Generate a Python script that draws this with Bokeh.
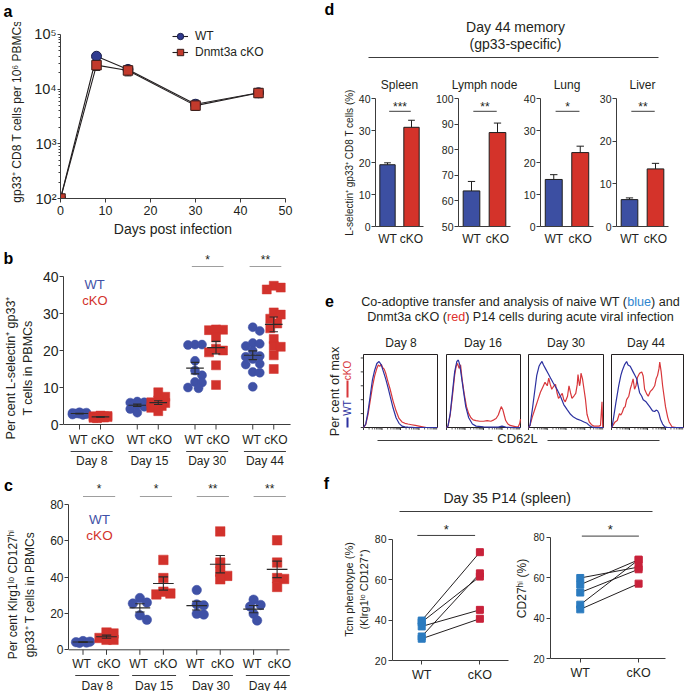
import math
from bokeh.plotting import figure
from bokeh.layouts import row, column
from bokeh.models import (Range1d, FixedTicker, CustomJSTickFormatter, Whisker, TeeHead,
                          Legend, LegendItem, ColumnDataSource)
from bokeh.core.properties import value
from bokeh.embed import file_html
from bokeh.resources import INLINE

# ---------------- data ----------------
a_days = [0, 8, 15, 30, 44]
a_wt = [100, 40000, 23000, 5300, 8600]
a_wt_err = [0, 2500, 3500, 1000, 1400]
a_ko = [100, 27500, 22000, 5000, 8500]
a_ko_err = [0, 5500, 4500, 900, 1500]
a_xticks = [0, 10, 20, 30, 40, 50]
a_yticks = [1e2, 1e3, 1e4, 1e5]

b_days = ["Day 8", "Day 15", "Day 30", "Day 44"]
b_wt = [[3.3, 3.1, 3.0, 2.9, 2.8, 2.7, 3.2, 2.6, 3.0],
        [6.2, 6.0, 5.9, 5.6, 5.5, 5.3, 4.8, 4.2, 3.2],
        [21.6, 21.6, 21.5, 17.2, 14.6, 13.3, 11.5, 11.3, 10.0, 9.8],
        [26.3, 25.3, 22.0, 21.8, 21.2, 19.9, 18.5, 18.3, 17.7, 16.4, 16.2, 14.2, 14.0, 10.2]]
b_ko = [[2.3, 2.2, 2.1, 2.0, 1.9, 1.8, 2.4, 1.7, 2.0, 2.2],
        [8.7, 7.5, 6.5, 6.0, 5.8, 5.0, 4.5, 3.6, 5.5],
        [25.7, 25.6, 25.5, 23.5, 20.5, 20.0, 19.5, 16.0, 10.7],
        [37.5, 37.0, 36.5, 30.3, 29.7, 28.6, 27.3, 26.0, 23.1, 21.2, 21.0, 18.7, 15.0]]
b_sig = ["", "", "*", "**"]
b_yticks = [0, 10, 20, 30, 40]

c_days = ["Day 8", "Day 15", "Day 30", "Day 44"]
c_wt = [[4.8, 4.2, 3.8, 4.0, 4.5],
        [28.5, 26.0, 25.5, 19.0, 16.5],
        [32.9, 25.0, 24.5, 19.8, 19.4],
        [27.6, 24.7, 23.8, 19.8, 16.1]]
c_ko = [[9.5, 9.0, 6.5, 5.5, 5.5],
        [49.5, 39.5, 32.0, 31.0, 30.5],
        [65.2, 48.0, 43.0, 40.7, 38.8],
        [60.3, 48.0, 39.5, 39.0, 34.6]]
c_sig = ["*", "*", "**", "**"]
c_yticks = [0, 20, 40, 60, 80]

groups = ["WT", "cKO"]
d_tissues = ["Spleen", "Lymph node", "Lung", "Liver"]
d_wt = [19.3, 63.9, 14.7, 6.3]
d_wt_err = [0.6, 3.7, 1.5, 0.4]
d_ko = [31.0, 86.7, 23.1, 13.5]
d_ko_err = [2.2, 3.7, 2.0, 1.3]
d_sig = ["***", "**", "*", "**"]
d_ylo = [0, 50, 0, 0]
d_yhi = [40, 100, 40, 30]

e_days = ["Day 8", "Day 16", "Day 30", "Day 44"]
e_wt_x = [[0, 3, 6, 9, 12, 15, 18, 21, 24, 27, 30, 33, 36, 40, 44, 48, 52, 56, 60, 70, 100],
          [0, 2, 5, 8, 11, 14, 16, 18, 20, 23, 26, 30, 35, 40, 50, 60, 70, 75, 80, 90, 100],
          [0, 2, 5, 8, 11, 14, 16, 18, 20, 23, 26, 29, 33, 38, 43, 47, 52, 56, 60, 65, 70, 74, 78, 81, 84, 88, 100],
          [0, 1, 3, 6, 10, 13, 15, 18, 21, 23, 26, 30, 33, 35, 37, 39, 42, 44, 48, 53, 57, 60, 62, 64, 66, 68, 71, 74, 78, 100]]
e_wt_y = [[0, 5, 22, 45, 68, 82, 92, 95, 90, 80, 70, 58, 45, 28, 14, 6, 2, 1, 0.5, 0, 0],
          [0, 2, 20, 50, 80, 95, 97, 90, 75, 52, 30, 14, 5, 2, 1, 0.5, 0.5, 2, 0.5, 0, 0],
          [0, 3, 25, 50, 75, 88, 92, 95, 90, 84, 78, 72, 64, 55, 44, 33, 25, 19, 15, 12, 10, 8, 6, 3, 1, 0, 0],
          [0, 2, 15, 35, 60, 75, 82, 90, 95, 90, 88, 80, 74, 70, 60, 50, 45, 40, 37, 30, 24, 23, 25, 24, 20, 12, 5, 1, 0, 0]]
e_ko_x = [[0, 3, 6, 9, 12, 15, 18, 20, 22, 24, 26, 28, 30, 33, 36, 40, 44, 48, 52, 56, 60, 65, 70, 75, 80, 85, 100],
          [0, 2, 5, 8, 11, 13, 15, 17, 19, 21, 24, 27, 30, 33, 36, 40, 45, 50, 55, 60, 64, 67, 70, 72, 74, 76, 78, 80, 83, 86, 90, 94, 97, 99, 100],
          [0, 2, 5, 9, 12, 16, 19, 22, 25, 27, 29, 31, 34, 36, 38, 40, 43, 45, 47, 49, 52, 54, 56, 58, 61, 63, 65, 66, 68, 69, 70, 72, 74, 76, 78, 81, 84, 87, 90, 94, 96, 98, 99],
          [0, 2, 5, 8, 11, 13, 15, 17, 19, 21, 24, 26, 28, 30, 32, 34, 36, 39, 42, 44, 46, 49, 51, 54, 57, 60, 62, 64, 66, 67, 69, 71, 73, 75, 78, 80, 84, 90, 100]]
e_ko_y = [[0, 4, 18, 38, 58, 74, 85, 90, 88, 91, 86, 84, 78, 66, 55, 38, 24, 13, 8, 6, 5, 4, 3, 2, 1, 0, 0],
          [0, 2, 18, 45, 75, 88, 92, 85, 90, 70, 48, 30, 20, 14, 11, 10, 9, 9, 10, 9, 11, 13, 18, 24, 30, 26, 18, 10, 5, 3, 2, 1, 1, 6, 12],
          [0, 3, 15, 28, 38, 51, 58, 65, 60, 71, 62, 55, 60, 62, 50, 42, 46, 49, 40, 37, 45, 60, 50, 42, 46, 49, 62, 76, 60, 65, 78, 70, 55, 40, 19, 8, 4, 2, 2, 2, 3, 37, 0],
          [0, 3, 8, 10, 20, 18, 22, 28, 30, 40, 45, 55, 62, 70, 55, 60, 72, 78, 80, 74, 55, 48, 45, 52, 55, 60, 70, 75, 85, 94, 80, 60, 45, 30, 15, 8, 1, 0, 0]]
e_xticks = [0, 25, 50, 75]
e_yticks = [0, 20, 40, 60, 80, 100]

f_tcm_wt = [39.8, 39.0, 36.9, 31.9, 30.8]
f_tcm_ko = [73.7, 61.6, 45.1, 63.2, 40.7]
f_cd27_wt = [59.8, 56.5, 52.6, 46.6, 44.3]
f_cd27_ko = [65.2, 68.8, 64.1, 68.8, 57.0]
f_yticks = [20, 40, 60, 80]

# ---------------- style ----------------
FONT = "Liberation Sans"
INK = "#231f20"
AX = "#3c3c3c"
BLUE = "#3f51a6"
RED = "#d2322c"
NAVY = "#2f3a8f"
BRICK = "#c23a2c"
BAR_BLUE = "#3c4fa2"
BAR_RED = "#d4332a"
H_BLUE = "#2c31a0"
H_RED = "#d8373b"
F_BLUE = "#2b7bbf"
F_RED = "#c8213a"

ARIAL = {' ': 278, '(': 333, ')': 333, '-': 333, 'A': 667, 'B': 667, 'C': 722, 'D': 722, 'K': 667, 'L': 556,
         'M': 833, 'O': 778, 'P': 667, 'T': 611, 'W': 944, 'a': 556, 'b': 556, 'c': 500, 'd': 556, 'e': 556,
         'f': 278, 'g': 556, 'h': 556, 'i': 222, 'l': 222, 'm': 833, 'n': 556, 'o': 556, 'p': 556, 'r': 333,
         's': 500, 't': 278, 'u': 556, 'v': 500, 'w': 722, 'x': 500, 'y': 500}


def tw(s, size):
    return sum(ARIAL.get(ch, 556) for ch in s) / 1000.0 * size


def base(p):
    p.grid.visible = False
    p.outline_line_color = None
    p.background_fill_color = "white"
    p.border_fill_color = "white"
    return p


def mkfig(w, h, xr, yr, ml, mr, mt, mb, **kw):
    p = figure(width=w, height=h, x_range=xr, y_range=yr, output_backend="svg",
               toolbar_location=None, min_border_left=ml, min_border_right=mr,
               min_border_top=mt, min_border_bottom=mb, frame_align=False, **kw)
    return base(p)


def deco(w, h, xr=None, yr=None, **kw):
    p = figure(width=w, height=h, x_range=xr if xr is not None else Range1d(0, w),
               y_range=yr if yr is not None else Range1d(h, 0), output_backend="svg",
               toolbar_location=None, x_axis_location=None, y_axis_location=None, min_border=0,
               frame_align=False, **kw)
    return base(p)


def xr_px(origin, unit, left, right):
    return Range1d((left - origin) / unit, (right - origin) / unit)


def style_axis(ax, fs, tick_out=4, standoff=2):
    ax.axis_line_color = AX
    ax.major_tick_line_color = AX
    ax.minor_tick_line_color = AX
    ax.major_tick_in = 0
    ax.major_tick_out = tick_out
    ax.minor_tick_in = 0
    ax.minor_tick_out = 0
    ax.major_label_text_font = FONT
    ax.major_label_text_font_size = fs
    ax.major_label_text_color = INK
    ax.major_label_standoff = standoff
    ax.axis_label_text_font = FONT
    ax.axis_label_text_font_style = "normal"
    ax.axis_label_text_color = INK


def txt(p, xs, ys, texts, size, color=INK, align="center", baseline="middle", angle=0.0, style="normal"):
    p.text(x=xs, y=ys, text=texts, text_font=value(FONT), text_font_size=value(size),
           text_color=color, text_align=align, text_baseline=baseline, angle=angle,
           text_font_style=style)


def letter(p, ch, x, y):
    txt(p, [x], [y], [ch], "16px", color="black", style="bold")


def swarm(vals, xs, ys, d=7.0, step=3.5, kmax=2):
    order = sorted(range(len(vals)), key=lambda i: -vals[i])
    cands = [0.0]
    for k in range(1, kmax + 1):
        cands += [k * step, -k * step]
    placed = []
    res = [0.0] * len(vals)
    for i in order:
        vy = vals[i] * ys
        best, bestd = 0.0, -1.0
        for c in cands:
            md = min((math.hypot(c - px, vy - py) for px, py in placed), default=1e9)
            if md >= d:
                best = c
                break
            if md > bestd:
                best, bestd = c, md
        placed.append((best, vy))
        res[i] = best / xs
    return res


def mean_sem(v):
    n = len(v)
    m = sum(v) / n
    sd = math.sqrt(sum((x - m) ** 2 for x in v) / (n - 1))
    return m, sd / math.sqrt(n)


# ================= LEFT COLUMN =================
# ---- panel a ----
a_head = deco(340, 22)
letter(a_head, "a", 7.5, 11)
letter(a_head, "d", 329, 9)

A_DEC = 54.67  # px per decade
pa = mkfig(340, 223, Range1d(0, 50), Range1d(100, 10 ** (5 + 10 / A_DEC)), 60, 55, 2, 47,
           y_axis_type="log", title=None)
xa = pa.xaxis[0]
style_axis(xa, "12.5px", tick_out=4, standoff=3)
xa.ticker = FixedTicker(ticks=a_xticks)
xa.axis_label = "Days post infection"
xa.axis_label_text_font_size = "14px"
xa.axis_label_standoff = 3
ya = pa.yaxis[0]
style_axis(ya, "14.5px", tick_out=3, standoff=1)
ya.bounds = (1e2, 1e5)
minors = [m * 10 ** k for k in (2, 3, 4) for m in range(2, 10)]
ya.ticker = FixedTicker(ticks=a_yticks, minor_ticks=minors)
ya.minor_tick_out = 2
ya.formatter = CustomJSTickFormatter(code="""
const e = Math.round(Math.log10(tick));
const s = {2: "\u00b2", 3: "\u00b3", 4: "\u2074", 5: "\u2075", 6: "\u2076"};
return "10" + s[e];
""")
ya.axis_label = "gp33\u207a CD8 T cells per 10\u2076 PBMCs"
ya.axis_label_text_font_size = "12px"
ya.axis_label_standoff = 7

src_wt = ColumnDataSource(dict(x=a_days, y=a_wt, lo=[m - e for m, e in zip(a_wt, a_wt_err)],
                               hi=[m + e for m, e in zip(a_wt, a_wt_err)]))
src_ko = ColumnDataSource(dict(x=a_days, y=a_ko, lo=[m - e for m, e in zip(a_ko, a_ko_err)],
                               hi=[m + e for m, e in zip(a_ko, a_ko_err)]))
la = pa.line("x", "y", source=src_wt, line_color=INK, line_width=1.1)
lk = pa.line("x", "y", source=src_ko, line_color=INK, line_width=1.1)
for s in (src_wt, src_ko):
    pa.add_layout(Whisker(source=s, base="x", lower="lo", upper="hi", line_color=INK, line_width=1,
                          upper_head=TeeHead(size=7, line_color=INK, line_width=1),
                          lower_head=TeeHead(size=7, line_color=INK, line_width=1), level="underlay"))
sa = pa.scatter("x", "y", source=src_wt, marker="circle", size=10, fill_color=NAVY, line_color="#1c1f4a")
sk = pa.scatter("x", "y", source=src_ko, marker="square", size=9.5, fill_color=BRICK, line_color="#3a1c18")
leg = Legend(items=[LegendItem(label="WT", renderers=[la, sa]),
                    LegendItem(label="Dnmt3a cKO", renderers=[lk, sk])],
             location=(112, 138), border_line_color=None, background_fill_alpha=0, padding=0, margin=0,
             spacing=0, glyph_width=16, glyph_height=16, label_height=16, label_standoff=7,
             label_text_font=FONT, label_text_font_size="12px", label_text_color=INK)
pa.add_layout(leg)


# ---- dot panels b, c ----
def dot_panel(p, head, days, wt, ko, sig, pos_wt, pos_ko, cfg):
    xs, ys = cfg["xs"], cfg["ys"]
    xr = p.x_range
    p.segment(x0=[xr.start], y0=[0], x1=[pos_ko[-1] + cfg["axis_ext"]], y1=[0], line_color=AX, line_width=1)
    allpos = [v for pair in zip(pos_wt, pos_ko) for v in pair]
    tl = cfg["tick_px"] / ys
    p.segment(x0=allpos, y0=[0] * len(allpos), x1=allpos, y1=[-tl] * len(allpos), line_color=AX, line_width=1)
    lab_y = -cfg["lab_px"] / ys
    ul_y = -cfg["ul_px"] / ys
    day_y = -cfg["day_px"] / ys
    txt(p, [x - 0.06 for x in pos_wt], [lab_y] * len(pos_wt), [groups[0]] * len(pos_wt), cfg["fs"])
    txt(p, [x + 0.1 for x in pos_ko], [lab_y] * len(pos_ko), [groups[1]] * len(pos_ko), cfg["fs"])
    p.segment(x0=[x - cfg["ul_l"] for x in pos_wt], y0=[ul_y] * len(pos_wt),
              x1=[x + cfg["ul_r"] for x in pos_ko], y1=[ul_y] * len(pos_ko), line_color=AX, line_width=1)
    txt(p, [(a - cfg["ul_l"] + b + cfg["ul_r"]) / 2 for a, b in zip(pos_wt, pos_ko)], [day_y] * len(days),
        days, cfg["fs"])
    for g in range(len(days)):
        for vals, pos, col, mk in ((wt[g], pos_wt[g], BLUE, "circle"), (ko[g], pos_ko[g], RED, "square")):
            offs = swarm(vals, xs, ys)
            p.scatter([pos + o for o in offs], vals, marker=mk, size=cfg["msize"], fill_color=col,
                      line_color=col, line_width=0.5)
            m, se = mean_sem(vals)
            hw = cfg["mean_hw"]
            cw = cfg["cap_hw"]
            p.segment(x0=[pos - hw, pos, pos - cw, pos - cw], y0=[m, m - se, m - se, m + se],
                      x1=[pos + hw, pos, pos + cw, pos + cw], y1=[m, m + se, m - se, m + se],
                      line_color="#2a2a2a", line_width=1.1)
    for g, s in enumerate(sig):
        if not s:
            continue
        x0 = pos_wt[g] - cfg["sig_l"]
        x1 = pos_ko[g] + cfg["sig_r"]
        head.segment(x0=[x0], y0=[cfg["sig_y"]], x1=[x1], y1=[cfg["sig_y"]], line_color=AX, line_width=1)
        txt(head, [(x0 + x1) / 2], [cfg["star_y"]], [s], "12px")


# panel b : data 0 at px x=79, 21 px per unit; y: 0 at page 424, 3.7 px per unit
B_X0, B_U, B_Y0, B_YU = 79.0, 21.0, 424.0, 3.7
B_TOP = 267  # page y where the plot below the header starts
B_GAP = 2.75
bpos_wt = [g * B_GAP for g in range(len(b_days))]
bpos_ko = [x + 1 for x in bpos_wt]
b_head = deco(340, B_TOP - 245, xr=xr_px(B_X0, B_U, 0, 340), yr=Range1d(B_TOP - 245, 0))
letter(b_head, "b", (8 - B_X0) / B_U, 12.5)
pb = mkfig(340, 468 - B_TOP, xr_px(B_X0, B_U, 63, 340),
           Range1d((B_Y0 - 468) / B_YU, (B_Y0 - B_TOP) / B_YU), 63, 0, 0, 0,
           x_axis_location=None, title=None)
yb = pb.yaxis[0]
style_axis(yb, "14px", tick_out=4, standoff=1)
yb.bounds = (0, 40)
yb.ticker = FixedTicker(ticks=b_yticks)
yb.axis_label = "Per cent L-selectin\u207a gp33\u207a\nT cells in PBMCs"
yb.axis_label_text_font_size = "12.5px"
yb.axis_label_standoff = 5
dot_panel(pb, b_head, b_days, b_wt, b_ko, b_sig, bpos_wt, bpos_ko,
          dict(xs=B_U, ys=B_YU, axis_ext=0.8, tick_px=5, lab_px=15, ul_px=27, day_px=36, fs="12px",
               ul_l=0.42, ul_r=0.58, msize=9, mean_hw=0.42, cap_hw=0.2,
               sig_y=21.5, star_y=14.5, sig_l=0.15, sig_r=0.36))
txt(pb, [(94 - B_X0) / B_U], [(B_Y0 - 284) / B_YU], ["WT"], "13px", color=BLUE)
txt(pb, [(94.5 - B_X0) / B_U], [(B_Y0 - 300) / B_YU], ["cKO"], "13px", color=RED)
# panel e side texts that sit in this region of the page
letter(pb, "e", (329 - B_X0) / B_U, (B_Y0 - 300) / B_YU)
txt(pb, [(333.5 - B_X0) / B_U], [(B_Y0 - 391) / B_YU], ["Per cent of max"], "12.8px", angle=math.pi / 2)

# panel c : data 0 at px x=82.5, 23.5 px per unit; y: 0 at page 649.3
C_X0, C_U, C_Y0 = 82.5, 23.5, 649.3
C_TOP = 497
C_YU = (C_Y0 - 504) / 80.0
C_GAP = 2.42
cpos_wt = [g * C_GAP for g in range(len(c_days))]
cpos_ko = [x + 1 for x in cpos_wt]
c_head = deco(340, C_TOP - 468, xr=xr_px(C_X0, C_U, 0, 340), yr=Range1d(C_TOP - 468, 0))
letter(c_head, "c", (8 - C_X0) / C_U, 17)
letter(c_head, "f", (326 - C_X0) / C_U, 15)
pc = mkfig(340, 691 - C_TOP, xr_px(C_X0, C_U, 68, 300),
           Range1d((C_Y0 - 691) / C_YU, (C_Y0 - C_TOP) / C_YU), 68, 40, 0, 0,
           x_axis_location=None, title=None)
yc = pc.yaxis[0]
style_axis(yc, "12px", tick_out=4, standoff=1)
yc.bounds = (0, 80)
yc.ticker = FixedTicker(ticks=c_yticks)
yc.axis_label = "Per cent Klrg1\u02e1\u1d52 CD127\u02b0\u2071\ngp33\u207a T cells in PBMCs"
yc.axis_label_text_font_size = "12px"
yc.axis_label_standoff = 10
dot_panel(pc, c_head, c_days, c_wt, c_ko, c_sig, cpos_wt, cpos_ko,
          dict(xs=C_U, ys=C_YU, axis_ext=0.53, tick_px=5, lab_px=13.7, ul_px=25.7, day_px=35.7, fs="12px",
               ul_l=0.33, ul_r=0.54, msize=9.5, mean_hw=0.44, cap_hw=0.2,
               sig_y=28.5, star_y=20, sig_l=0.0, sig_r=0.37))
txt(pc, [(99 - C_X0) / C_U], [(C_Y0 - 519) / C_YU], ["WT"], "13.5px", color=BLUE)
txt(pc, [(99 - C_X0) / C_U], [(C_Y0 - 535) / C_YU], ["cKO"], "13.5px", color=RED)

# ================= RIGHT COLUMN =================
RW = 344
# ---- panel d ----
d_head = deco(RW, 65)
txt(d_head, [175], [26], ["Day 44 memory"], "14px")
txt(d_head, [175], [43], ["(gp33-specific)"], "14px")
d_head.segment(x0=[28], y0=[57], x1=[318], y1=[57], line_color=AX, line_width=1)

d_w = [92, 88, 76, 88]
d_ml = [30, 23, 18, 19]
d_mr = [9, 10, 3, 16]
d_figs = []
for i, tissue in enumerate(d_tissues):
    p = mkfig(d_w[i], 183, Range1d(0, 2), Range1d(d_ylo[i], d_yhi[i]), d_ml[i], d_mr[i], 33, 20,
              title=tissue)
    p.title.align = "center"
    p.title.text_font = FONT
    p.title.text_font_size = "12px"
    p.title.text_font_style = "normal"
    p.title.text_color = INK
    p.title.standoff = 14
    yax = p.yaxis[0]
    style_axis(yax, "10.5px", tick_out=4, standoff=1)
    yax.ticker = FixedTicker(ticks=list(range(d_ylo[i], d_yhi[i] + 1, 10)))
    if i == 0:
        yax.axis_label = "L-selectin\u207a gp33\u207a CD8 T cells (%)"
        yax.axis_label_text_font_size = "10px"
        yax.axis_label_standoff = 1
    xax = p.xaxis[0]
    style_axis(xax, "12px", tick_out=0, standoff=5)
    xax.ticker = FixedTicker(ticks=[0.5, 1.5])
    xax.formatter = CustomJSTickFormatter(code="return tick < 1 ? 'WT' : 'cKO';")
    tops = [d_wt[i], d_ko[i]]
    errs = [d_wt_err[i], d_ko_err[i]]
    xs_ = [0.5, 1.5]
    p.vbar(x=xs_, top=tops, bottom=d_ylo[i], width=0.64, fill_color=[BAR_BLUE, BAR_RED],
           line_color="#1e1e1e", line_width=1)
    cw = 0.14
    p.segment(x0=xs_ + [x - cw for x in xs_], y0=tops + [t + e for t, e in zip(tops, errs)],
              x1=xs_ + [x + cw for x in xs_], y1=[t + e for t, e in zip(tops, errs)] * 2,
              line_color="#1e1e1e", line_width=1)
    span = d_yhi[i] - d_ylo[i]
    sy = d_ylo[i] + 0.9 * span
    ppu = 130.0 / span
    p.segment(x0=[0.57], y0=[sy], x1=[1.47], y1=[sy], line_color=AX, line_width=1)
    txt(p, [1.02], [sy + 4.0 / ppu], [d_sig[i]], "12px")
    d_figs.append(p)

# ---- panel e ----
e_head = deco(RW, 82)


def rich(p, xc, y, parts, size):
    total = sum(tw(t, size) for t, _ in parts)
    x = xc - total / 2
    for t, c in parts:
        txt(p, [x], [y], [t], "%.1fpx" % size, color=c, align="left")
        x += tw(t, size)


rich(e_head, 180, 53, [("Co-adoptive transfer and analysis of naive WT (", INK), ("blue", "#2f86cf"),
                       (") and", INK)], 12.6)
rich(e_head, 180, 68, [("Dnmt3a cKO (", INK), ("red", "#e0302c"),
                       (") P14 cells during acute viral infection", INK)], 12.6)

e_lab = deco(20, 100)
e_lab.segment(x0=[7, 7], y0=[87, 50], x1=[7, 7], y1=[97, 67], line_color=[H_BLUE, H_RED], line_width=2)
txt(e_lab, [7], [77.5], ["WT"], "10px", color=H_BLUE, angle=math.pi / 2)
txt(e_lab, [7], [40], ["cKO"], "10px", color=H_RED, angle=math.pi / 2)

# figure extents and box extents (px within right column)
e_fig = [(20, 101), (101, 184), (184, 267), (267, 344)]
e_box = [(23, 97), (106, 180), (188, 263), (271, 343)]
E_TOP = 105.0
E_YU = 73.0 / E_TOP  # px per unit (box bottom at row 97, top at row 24)
e_figs = []
for i, day in enumerate(e_days):
    fl, fr = e_fig[i]
    bl, br = e_box[i]
    xu = (br - bl) / 100.0
    p = figure(width=fr - fl, height=100, x_range=Range1d((fl - bl) / xu, 100 + (fr - br) / xu),
               y_range=Range1d(-3 / E_YU, E_TOP + 2 / E_YU), output_backend="svg", toolbar_location=None,
               x_axis_location=None, y_axis_location=None, min_border_left=0, min_border_right=0,
               min_border_top=22, min_border_bottom=0, title=day, frame_align=False)
    base(p)
    p.title.align = "center"
    p.title.text_font = FONT
    p.title.text_font_size = "12px"
    p.title.text_font_style = "normal"
    p.title.text_color = INK
    p.title.standoff = 5
    p.quad(left=[0], right=[100], bottom=[0], top=[E_TOP], fill_color=None, line_color=INK, line_width=1)
    minor = [25 * k + 25 * math.log10(m) for k in range(4) for m in range(2, 10)]
    p.segment(x0=e_xticks, y0=[0] * len(e_xticks), x1=e_xticks, y1=[-3 / E_YU] * len(e_xticks),
              line_color=AX, line_width=1)
    p.segment(x0=minor, y0=[0] * len(minor), x1=minor, y1=[-2 / E_YU] * len(minor),
              line_color=AX, line_width=0.8)
    if i == 0:
        p.segment(x0=[0] * len(e_yticks), y0=e_yticks, x1=[-3 / xu] * len(e_yticks), y1=e_yticks,
                  line_color=AX, line_width=1)
    p.line(e_ko_x[i], e_ko_y[i], line_color=H_RED, line_width=1.2)
    p.line(e_wt_x[i], e_wt_y[i], line_color=H_BLUE, line_width=1.2)
    e_figs.append(p)

e_foot = deco(RW, 16)
e_foot.segment(x0=[37, 207], y0=[10, 10], x1=[152, 319], y1=[10, 10], line_color=AX, line_width=1)
txt(e_foot, [177], [7.5], ["CD62L"], "13px")

# ---- panel f ----
f_head = deco(RW, 70)
txt(f_head, [166.7], [51], ["Day 35 P14 (spleen)"], "14px")
f_head.segment(x0=[59], y0=[65], x1=[312], y1=[65], line_color=AX, line_width=1)


def pair_fig(w, xr, yr, ml, mr, mb, wt, ko, label, lab_fs, lab_standoff, tick_fs, sig_y, sig_x0, sig_x1, star_y):
    p = mkfig(w, 175, xr, yr, ml, mr, 2, mb, title=None)
    yax = p.yaxis[0]
    style_axis(yax, tick_fs, tick_out=4, standoff=2)
    yax.bounds = (20, 80)
    yax.ticker = FixedTicker(ticks=f_yticks)
    yax.axis_label = label
    yax.axis_label_text_font_size = lab_fs
    yax.axis_label_standoff = lab_standoff
    xax = p.xaxis[0]
    style_axis(xax, "12.5px", tick_out=4, standoff=3)
    xax.ticker = FixedTicker(ticks=[0, 1])
    xax.formatter = CustomJSTickFormatter(code="return tick < 0.5 ? 'WT' : 'cKO';")
    n = len(wt)
    p.segment(x0=[0] * n, y0=wt, x1=[1] * n, y1=ko, line_color=INK, line_width=1)
    p.scatter([0] * n, wt, marker="square", size=7, fill_color=F_BLUE, line_color=F_BLUE)
    p.scatter([1] * n, ko, marker="square", size=7, fill_color=F_RED, line_color=F_RED)
    p.segment(x0=[sig_x0], y0=[sig_y], x1=[sig_x1], y1=[sig_y], line_color=AX, line_width=1)
    txt(p, [(sig_x0 + sig_x1) / 2], [star_y], ["*"], "13px")
    return p


f1 = pair_fig(172, Range1d(-0.502, 1.492), Range1d(20, 90.4), 47, 4, 31, f_tcm_wt, f_tcm_ko,
              "Tcm phenotype (%)\n(Klrg1\u02e1\u1d52 CD127\u207a)", "11px", 2, "10.5px",
              82.0, -0.075, 0.918, 85.0)
f2 = pair_fig(172, Range1d(-0.51, 1.461), Range1d(20, 89.2), 32, 19, 33, f_cd27_wt, f_cd27_ko,
              "CD27\u02b0\u2071 (%)", "12px", 1, "10px", 80.5, 0.027, 1.005, 83.8)

# ---------------- layout ----------------
left_col = column(a_head, pa, b_head, pb, c_head, pc)
right_col = column(d_head, row(*d_figs), e_head, row(e_lab, *e_figs), e_foot, f_head, row(f1, f2))
layout = row(left_col, right_col)

open("out.html", "w").write(file_html(layout, INLINE, title="figure"))
